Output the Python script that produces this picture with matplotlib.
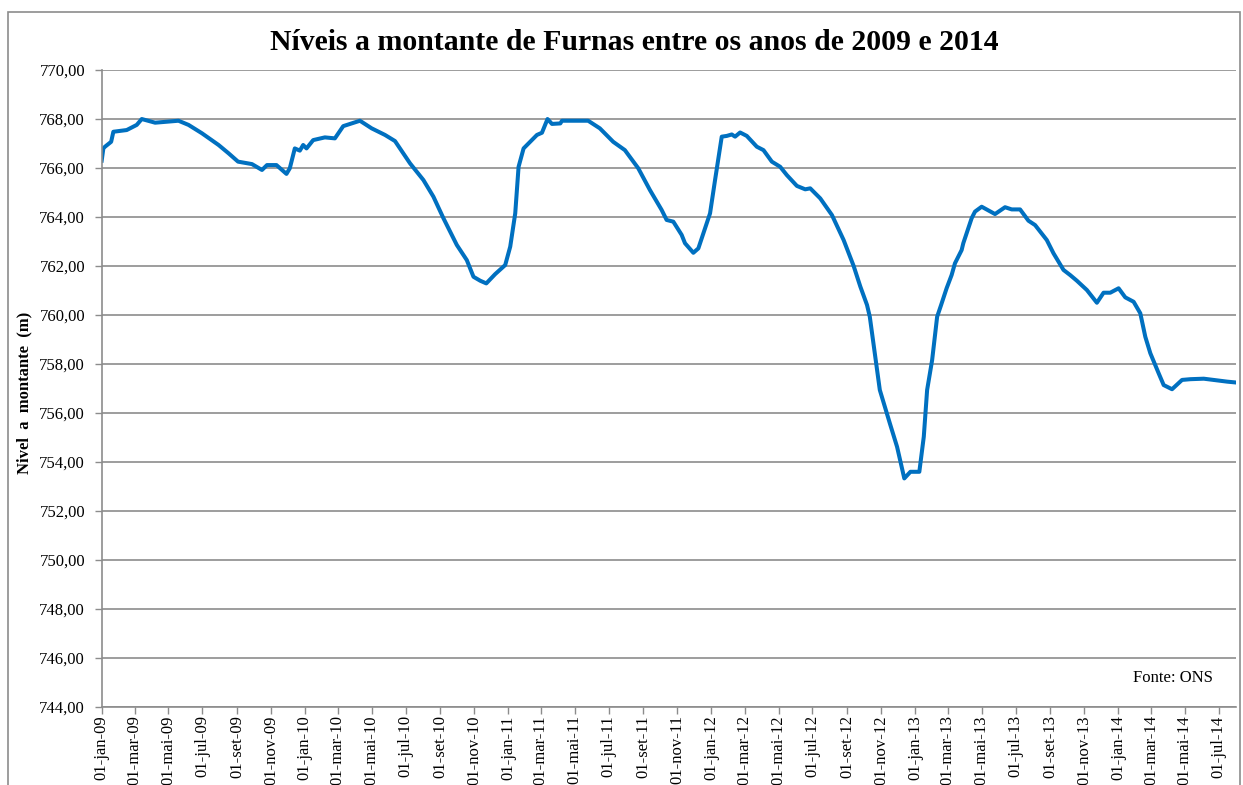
import numpy as np
import matplotlib
matplotlib.use("Agg")
import matplotlib.pyplot as plt
from matplotlib.patches import Rectangle

plt.rcParams['font.family'] = ['Liberation Serif', 'DejaVu Serif']

# dias desde 01-jan-2009 e nivel a montante (m)
base_date = np.datetime64('2009-01-01')
days = [0, 3, 6, 17, 21, 45, 63, 72, 96, 138, 156, 180, 210, 228, 245, 270, 288,
        297, 314, 332, 338, 347, 356, 362, 368, 380, 401, 419, 434, 449, 464, 485,
        509, 527, 554, 578, 596, 614, 638, 656, 668, 680, 691, 707, 725, 734, 743,
        749, 758, 782, 791, 801, 809, 824, 827, 874, 895, 919, 940, 964, 985, 1006,
        1015, 1027, 1042, 1048, 1063, 1072, 1081, 1093, 1102, 1114, 1123, 1132,
        1138, 1147, 1159, 1177, 1189, 1204, 1219, 1231, 1249, 1264, 1273, 1291,
        1312, 1333, 1351, 1363, 1375, 1380, 1389, 1398, 1416, 1429, 1442, 1453,
        1469, 1477, 1483, 1492, 1501, 1508, 1518, 1527, 1533, 1545, 1548, 1563,
        1569, 1581, 1605, 1623, 1635, 1650, 1665, 1677, 1698, 1710, 1728, 1740,
        1752, 1770, 1788, 1800, 1812, 1827, 1839, 1854, 1866, 1875, 1884, 1899,
        1908, 1923, 1941, 1956, 1980, 2007, 2022, 2040]
levels = [766.30, 766.80, 766.87, 767.07, 767.48, 767.55, 767.76, 768.00, 767.85,
          767.93, 767.76, 767.42, 766.94, 766.60, 766.26, 766.16, 765.92, 766.12,
          766.12, 765.76, 765.99, 766.80, 766.71, 766.94, 766.80, 767.14, 767.25,
          767.21, 767.71, 767.82, 767.93, 767.62, 767.35, 767.10, 766.19, 765.51,
          764.83, 763.95, 762.86, 762.24, 761.56, 761.40, 761.29, 761.67, 762.04,
          762.79, 764.15, 766.05, 766.80, 767.35, 767.44, 768.00, 767.80, 767.82,
          767.93, 767.93, 767.62, 767.07, 766.73, 765.99, 765.10, 764.29, 763.88,
          763.81, 763.27, 762.93, 762.54, 762.72, 763.33, 764.15, 765.51, 767.28,
          767.31, 767.37, 767.28, 767.45, 767.31, 766.87, 766.73, 766.26, 766.05,
          765.71, 765.27, 765.13, 765.17, 764.76, 764.08, 763.06, 762.00, 761.16,
          760.41, 759.93, 758.44, 756.94, 755.58, 754.62, 753.33, 753.60, 753.60,
          755.03, 756.94, 758.16, 759.93, 760.40, 761.09, 761.63, 762.11, 762.65,
          762.93, 763.95, 764.22, 764.42, 764.12, 764.40, 764.31, 764.31, 763.85,
          763.67, 763.06, 762.52, 761.84, 761.63, 761.40, 761.02, 760.50, 760.91,
          760.91, 761.09, 760.72, 760.54, 760.07, 759.11, 758.44, 757.62, 757.14,
          756.97, 757.35, 757.38, 757.40, 757.32, 757.28, 757.24]

month_names = ['jan', 'mar', 'mai', 'jul', 'set', 'nov']
years = ['09', '10', '11', '12', '13', '14']
tick_dates = np.arange('2009-01', '2014-08', 2, dtype='datetime64[M]').astype('datetime64[D]')
tick_labels = ['01-%s-%s' % (month_names[i % 6], years[i // 6]) for i in range(len(tick_dates))]
y_ticks = np.arange(744, 771, 2)

dates = base_date + np.array(days).astype('timedelta64[D]')

fig = plt.figure(figsize=(12.43, 7.85), dpi=100)
ax = fig.add_axes([0.0818, 0.0994, 0.9126, 0.8114])

# moldura do grafico
fig.patches.append(Rectangle((8 / 1243, -0.05), 1232 / 1243, 1.05 - 12 / 785,
                             transform=fig.transFigure, fill=False,
                             edgecolor='#8c8c8c', linewidth=1.2))

ax.plot(dates, levels, color='#0070C0', linewidth=2.9, solid_joinstyle='round')

ax.set_ylim(744, 770)
ax.set_yticks(y_ticks)
ax.set_yticklabels([('%.2f' % v).replace('.', ',') for v in y_ticks], fontsize=12)
ax.set_xlim(base_date, np.datetime64('2014-08-01'))
ax.set_xticks(tick_dates)
ax.set_xticklabels(tick_labels, rotation=90, fontsize=12, va='top')

ax.grid(axis='y', color='#8c8c8c', linewidth=1.2)
ax.set_axisbelow(True)
for s in ['top', 'right']:
    ax.spines[s].set_visible(False)
for s in ['left', 'bottom']:
    ax.spines[s].set_color('#8c8c8c')
    ax.spines[s].set_linewidth(1.2)
ax.tick_params(axis='both', direction='out', length=5, color='#8c8c8c', width=1)
ax.tick_params(axis='x', pad=1)
ax.tick_params(axis='y', pad=7)

ax.set_ylabel('Nivel  a  montante  (m)', fontsize=12, fontweight='bold')
ax.yaxis.set_label_coords(-0.0614, 0.493)

fig.text(0.51, 0.946, 'Níveis a montante de Furnas entre os anos de 2009 e 2014',
         ha='center', va='center', fontsize=21.4, fontweight='bold')
ax.text(0.98, 0.046, 'Fonte: ONS', transform=ax.transAxes, ha='right', va='center',
        fontsize=12)

fig.savefig('out.png', dpi=100)
